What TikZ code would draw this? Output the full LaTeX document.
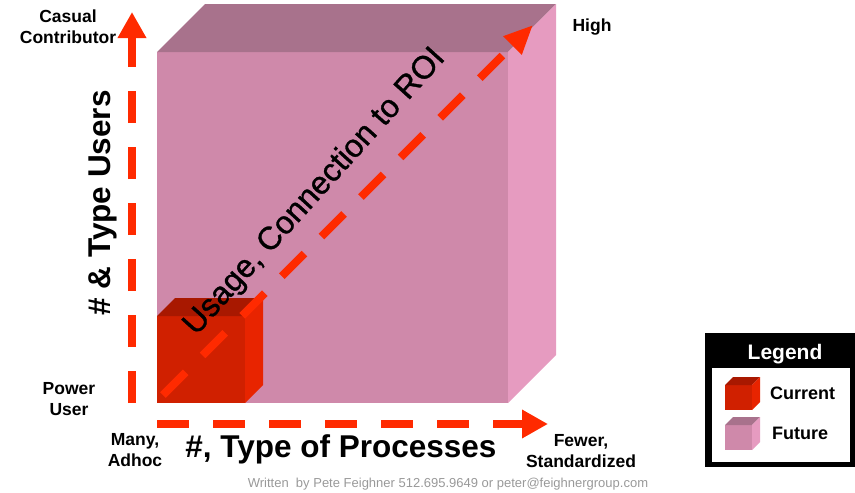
\documentclass[tikz,border=0pt]{standalone}
\usepackage{fontspec}
\setmainfont{Liberation Sans}
\newfontfamily\roifont[FakeBold=1]{Liberation Sans}
\usetikzlibrary{arrows.meta}
\definecolor{axisred}{HTML}{FF2A00}
\definecolor{futfront}{HTML}{CF89AA}
\definecolor{futtop}{HTML}{A8728C}
\definecolor{futside}{HTML}{E69BC0}
\definecolor{curfront}{HTML}{D02000}
\definecolor{curtop}{HTML}{A81800}
\definecolor{curside}{HTML}{E82400}
\definecolor{footgray}{HTML}{999999}
\newcommand{\drawcube}[6]{%
\fill[#6front](#1,#2)rectangle(#3,#4);
\fill[#6top](#1,#2)--++(#5,-#5)--({#3+#5},{#2-#5})--(#3,#2)--cycle;
\fill[#6side](#3,#2)--({#3+#5},{#2-#5})--({#3+#5},{#4-#5})--(#3,#4)--cycle;}
\tikzset{
axisline/.style={axisred,line width=8pt,dash pattern=on 32pt off 24pt,-{Triangle[length=26pt,width=27pt]}},
lbl/.style={font=\bfseries\fontsize{17.5}{21}\selectfont,align=center,inner sep=0pt},
biglbl/.style={font=\bfseries\fontsize{31.5}{36}\selectfont,inner sep=0pt},
roilbl/.style={font=\roifont\fontsize{32}{36}\selectfont,inner sep=0pt,rotate=48}
}
\begin{document}
\begin{tikzpicture}[x=1pt,y=-1pt]
\useasboundingbox(0,0)rectangle(855,493);
\pgfmathsetmacro{\db}{48}
\pgfmathsetmacro{\ds}{18}
\pgfmathsetmacro{\dl}{8}
\drawcube{157}{52}{508}{403}{\db}{fut}
\drawcube{157}{316}{245}{403}{\ds}{cur}
\coordinate(yfoot)at(132,403);
\coordinate(ytip)at(132,12);
\coordinate(xfoot)at(157,424);
\coordinate(xtip)at(548,424);
\coordinate(dfoot)at(163,395);
\coordinate(dtip)at(533,25);
\draw[axisline](yfoot)--(ytip);
\draw[axisline](xfoot)--(xtip);
\draw[axisline,-{Triangle[length=29pt,width=24pt]}](dfoot)--(dtip);
\node[roilbl](roi)at(315,192){Usage, Connection to ROI};
\node[lbl](casual)at(68,27){Casual\\Contributor};
\node[lbl](power)at(69,399){Power\\User};
\node[lbl](many)at(135,450){Many,\\Adhoc};
\node[lbl](high)at(592,27){High};
\node[lbl](fewer)at(581,451){Fewer,\\Standardized};
\node[biglbl](xlabel)at(341,449){\#, Type of Processes};
\node[biglbl,rotate=90](ylabel)at(103,203){\# \& Type Users};
\node[font=\fontsize{13}{15}\selectfont,text=footgray](foot)at(448,484){Written\ \ by Pete Feighner 512.695.9649 or peter@feighnergroup.com};
\fill(705,333)rectangle(855,467);
\fill[white](712,368)rectangle(850,462);
\node[font=\bfseries\fontsize{21}{24}\selectfont,text=white](legend)at(785,354){Legend};
\drawcube{725}{385}{752}{410}{\dl}{cur}
\drawcube{725}{425}{752}{450}{\dl}{fut}
\node[lbl,anchor=west,font=\bfseries\fontsize{18}{21}\selectfont](current)at(770,393){Current};
\node[lbl,anchor=west,font=\bfseries\fontsize{18}{21}\selectfont](future)at(772,433){Future};
\end{tikzpicture}
\end{document}
